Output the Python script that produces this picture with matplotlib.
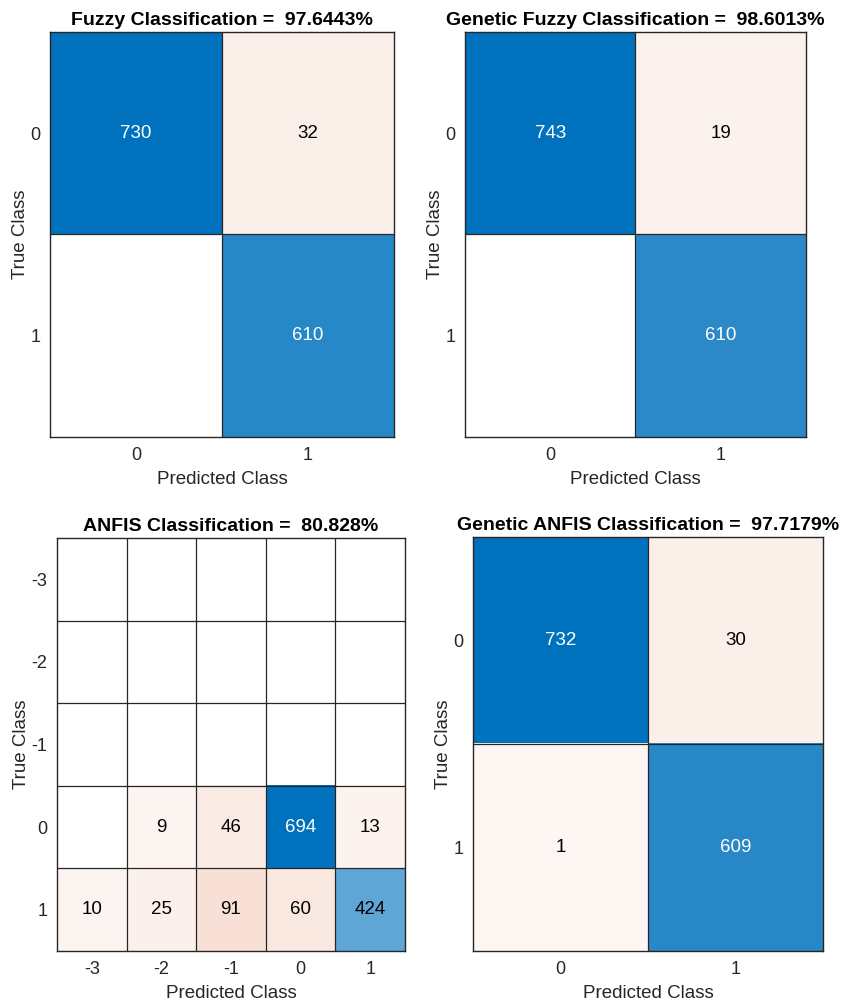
import numpy as np
import matplotlib.pyplot as plt

plt.rcParams['font.family'] = ['Liberation Sans', 'DejaVu Sans']

# confusion matrices (rows = true class, cols = predicted class)
fuzzy_labels = ['0', '1']
fuzzy_cm = [[730, 32],
            [0, 610]]

gen_fuzzy_labels = ['0', '1']
gen_fuzzy_cm = [[743, 19],
                [0, 610]]

anfis_labels = ['-3', '-2', '-1', '0', '1']
anfis_cm = [[0, 0, 0, 0, 0],
            [0, 0, 0, 0, 0],
            [0, 0, 0, 0, 0],
            [0, 9, 46, 694, 13],
            [10, 25, 91, 60, 424]]

gen_anfis_labels = ['0', '1']
gen_anfis_cm = [[732, 30],
                [1, 609]]

titles = ['Fuzzy Classification =  97.6443%',
          'Genetic Fuzzy Classification =  98.6013%',
          'ANFIS Classification =  80.828%',
          'Genetic ANFIS Classification =  97.7179%']

diag_color = np.array([0, 114, 189]) / 255.0
off_color = np.array([217, 83, 25]) / 255.0
white = np.ones(3)
grey = '#262626'


def shade(cm):
    # 0 -> white, otherwise a faint floor plus a share of the max count
    cm = np.asarray(cm, dtype=float)
    a = np.where(cm > 0, 0.05 + 0.95 * cm / cm.max(), 0.0)
    return a


def confusion_panel(ax, cm, labels, title):
    cm = np.asarray(cm)
    n = cm.shape[0]
    a = shade(cm)
    rgb = np.ones(cm.shape + (3,))
    for i in range(n):
        for j in range(n):
            base = diag_color if i == j else off_color
            rgb[i, j] = white * (1 - a[i, j]) + base * a[i, j]
    ax.imshow(rgb, aspect='auto', interpolation='nearest',
              extent=(-0.5, n - 0.5, n - 0.5, -0.5))
    for k in range(1, n):
        ax.axvline(k - 0.5, color=grey, lw=0.9)
        ax.axhline(k - 0.5, color=grey, lw=0.9)
    for i in range(n):
        for j in range(n):
            if cm[i, j] == 0:
                continue
            tc = 'white' if a[i, j] > 0.7 else 'black'
            ax.text(j, i, str(cm[i, j]), ha='center', va='center',
                    fontsize=13.5, color=tc)
    ax.set_xticks(range(n))
    ax.set_yticks(range(n))
    ax.set_xticklabels(labels)
    ax.set_yticklabels(labels)
    ax.tick_params(length=0, labelsize=13, labelcolor=grey, pad=7)
    ax.set_xlabel('Predicted Class', fontsize=13.5, color=grey, labelpad=5)
    ax.set_ylabel('True Class', fontsize=13.5, color=grey, labelpad=1)
    ax.set_title(title, fontsize=14, fontweight='bold', pad=5)
    for s in ax.spines.values():
        s.set_color(grey)
        s.set_linewidth(1.0)


fig = plt.figure(figsize=(8.48, 10.02), dpi=100)
ax1 = fig.add_axes([0.059, 0.5639, 0.4057, 0.4042])
ax2 = fig.add_axes([0.5483, 0.5639, 0.4021, 0.4042])
ax3 = fig.add_axes([0.0672, 0.0509, 0.4104, 0.4122])
ax4 = fig.add_axes([0.5578, 0.0509, 0.4127, 0.4132])

confusion_panel(ax1, fuzzy_cm, fuzzy_labels, titles[0])
confusion_panel(ax2, gen_fuzzy_cm, gen_fuzzy_labels, titles[1])
confusion_panel(ax3, anfis_cm, anfis_labels, titles[2])
confusion_panel(ax4, gen_anfis_cm, gen_anfis_labels, titles[3])

fig.savefig('out.png', dpi=100)
